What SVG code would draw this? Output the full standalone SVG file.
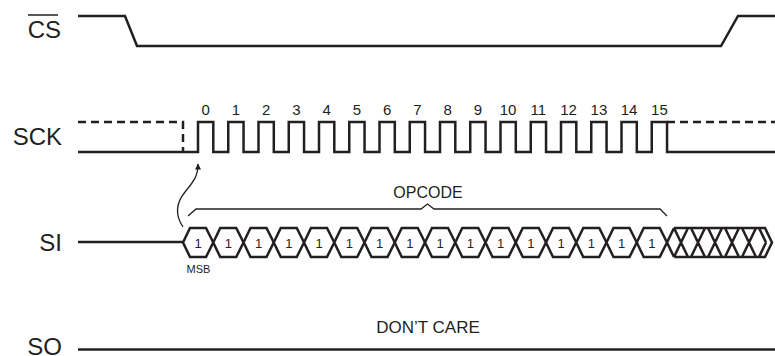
<svg xmlns="http://www.w3.org/2000/svg" width="775" height="356" viewBox="0 0 775 356">
<defs>
<marker id="ah" viewBox="0 0 10 10" refX="9" refY="5" markerWidth="7" markerHeight="6" markerUnits="userSpaceOnUse" orient="auto"><path d="M0,0 L10,5 L0,10 z" fill="#231f20"/></marker>
</defs>
<style>
.lbl{font-family:"Liberation Sans",Arial,sans-serif;font-size:24px;fill:#231f20;text-anchor:end}
.num{font-family:"Liberation Sans",Arial,sans-serif;font-size:15px;fill:#231f20;text-anchor:middle}
.bit{font-family:"Liberation Sans",Arial,sans-serif;font-size:13px;fill:#231f20;text-anchor:middle}
.sm{font-family:"Liberation Sans",Arial,sans-serif;font-size:11px;fill:#231f20;text-anchor:middle}
.mid{font-family:"Liberation Sans",Arial,sans-serif;font-size:16px;fill:#231f20;text-anchor:middle}
.w{fill:none;stroke:#231f20;stroke-width:2.5;stroke-linejoin:miter}
.d{fill:none;stroke:#231f20;stroke-width:2.5;stroke-dasharray:8 5}
.hx{fill:#fff;stroke:#231f20;stroke-width:2.5;stroke-linejoin:miter}
.thin{fill:none;stroke:#231f20;stroke-width:1.3}
</style>
<g id="cs">
<text class="lbl" x="61" y="37.5">CS</text>
<line x1="28" y1="15" x2="58" y2="15" stroke="#231f20" stroke-width="1.5"/>
<path class="w" d="M78,16 H125 L137,46 H721 L738,16 H775"/>
</g>
<g id="sck">
<text class="lbl" x="62" y="145">SCK</text>
<path class="d" d="M78,122 H183 V152"/>
<path class="d" d="M667,122 H775"/>
<path class="w" d="M78,152 H198 V122 H213.3 V152 H228.25 V122 H243.55 V152 H258.5 V122 H273.8 V152 H288.75 V122 H304.05 V152 H319 V122 H334.3 V152 H349.25 V122 H364.55 V152 H379.5 V122 H394.8 V152 H409.75 V122 H425.05 V152 H440 V122 H455.3 V152 H470.25 V122 H485.55 V152 H500.5 V122 H515.8 V152 H530.75 V122 H546.05 V152 H561 V122 H576.3 V152 H591.25 V122 H606.55 V152 H621.5 V122 H636.8 V152 H651.75 V122 H667.05 V152 H775"/>
<g class="num">
<text x="205.6" y="115">0</text><text x="235.9" y="115">1</text><text x="266.1" y="115">2</text><text x="296.4" y="115">3</text><text x="326.6" y="115">4</text><text x="356.9" y="115">5</text><text x="387.1" y="115">6</text><text x="417.4" y="115">7</text><text x="447.6" y="115">8</text><text x="477.9" y="115">9</text><text x="508.1" y="115">10</text><text x="538.4" y="115">11</text><text x="568.6" y="115">12</text><text x="598.9" y="115">13</text><text x="629.1" y="115">14</text><text x="659.4" y="115">15</text>
</g>
</g>
<g id="si">
<text class="lbl" x="62" y="251">SI</text>
<path class="w" d="M78,242 H183"/>
<g id="bits">
<polygon class="hx" points="183,242.5 190,228 206,228 213.25,242.5 206,257 190,257"/>
<polygon class="hx" points="213.25,242.5 220.25,228 236.25,228 243.5,242.5 236.25,257 220.25,257"/>
<polygon class="hx" points="243.5,242.5 250.5,228 266.5,228 273.75,242.5 266.5,257 250.5,257"/>
<polygon class="hx" points="273.75,242.5 280.75,228 296.75,228 304,242.5 296.75,257 280.75,257"/>
<polygon class="hx" points="304,242.5 311,228 327,228 334.25,242.5 327,257 311,257"/>
<polygon class="hx" points="334.25,242.5 341.25,228 357.25,228 364.5,242.5 357.25,257 341.25,257"/>
<polygon class="hx" points="364.5,242.5 371.5,228 387.5,228 394.75,242.5 387.5,257 371.5,257"/>
<polygon class="hx" points="394.75,242.5 401.75,228 417.75,228 425,242.5 417.75,257 401.75,257"/>
<polygon class="hx" points="425,242.5 432,228 448,228 455.25,242.5 448,257 432,257"/>
<polygon class="hx" points="455.25,242.5 462.25,228 478.25,228 485.5,242.5 478.25,257 462.25,257"/>
<polygon class="hx" points="485.5,242.5 492.5,228 508.5,228 515.75,242.5 508.5,257 492.5,257"/>
<polygon class="hx" points="515.75,242.5 522.75,228 538.75,228 546,242.5 538.75,257 522.75,257"/>
<polygon class="hx" points="546,242.5 553,228 569,228 576.25,242.5 569,257 553,257"/>
<polygon class="hx" points="576.25,242.5 583.25,228 599.25,228 606.5,242.5 599.25,257 583.25,257"/>
<polygon class="hx" points="606.5,242.5 613.5,228 629.5,228 636.75,242.5 629.5,257 613.5,257"/>
<polygon class="hx" points="636.75,242.5 643.75,228 659.75,228 667,242.5 659.75,257 643.75,257"/>
</g>
<g class="bit">
<text x="198.1" y="247.5">1</text><text x="228.4" y="247.5">1</text><text x="258.6" y="247.5">1</text><text x="288.9" y="247.5">1</text><text x="319.1" y="247.5">1</text><text x="349.4" y="247.5">1</text><text x="379.6" y="247.5">1</text><text x="409.9" y="247.5">1</text><text x="440.1" y="247.5">1</text><text x="470.4" y="247.5">1</text><text x="500.6" y="247.5">1</text><text x="530.9" y="247.5">1</text><text x="561.1" y="247.5">1</text><text x="591.4" y="247.5">1</text><text x="621.6" y="247.5">1</text><text x="651.9" y="247.5">1</text>
</g>
<path class="w" d="M674,228 H765 M674,257 H765 M667,242.5 L674,228 M667,242.5 L674,257 M674,228 L688,257 M674,257 L688,228 M691,228 L705,257 M691,257 L705,228 M708,228 L722,257 M708,257 L722,228 M725,228 L739,257 M725,257 L739,228 M742,228 L756,257 M742,257 L756,228 M759,228 L765,228 L772,242.5 L765,257 L759,257 M759,228 L766,242.5 M759,257 L766,242.5"/>
<text class="sm" x="198.5" y="273">MSB</text>
</g>
<g id="opcode">
<path class="thin" d="M188,216 L196,209 H421 L427.5,204 L434,209 H660 L667,216"/>
<text class="mid" x="428" y="198">OPCODE</text>
</g>
<g id="so">
<text class="lbl" x="62" y="355">SO</text>
<path class="w" d="M78,349.5 H775"/>
<text class="mid" x="428" y="333" style="font-size:17px">DON’T CARE</text>
</g>
<g id="connectors">
<path class="thin" d="M183,227 C175,215 176,203 185,192 C194,181 198,176 198,164" marker-end="url(#ah)" stroke-width="1"/>
</g>
</svg>
